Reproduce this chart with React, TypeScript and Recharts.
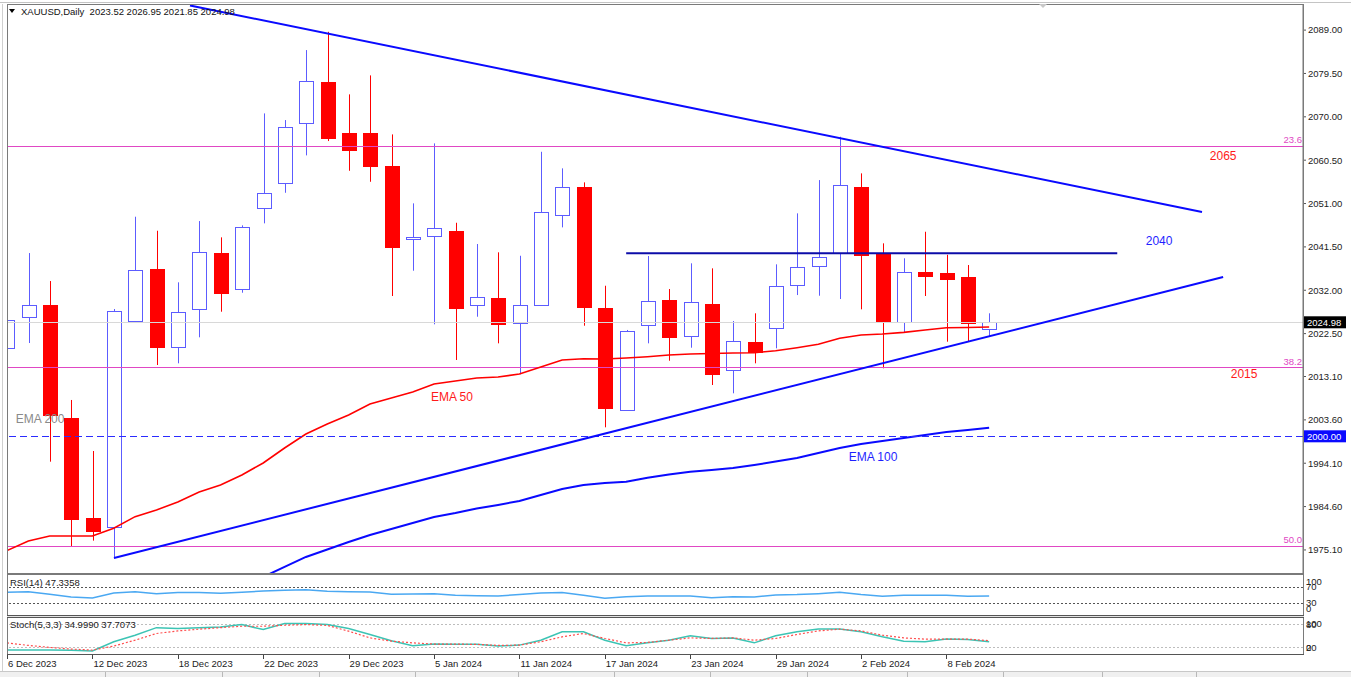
import React from "react";
import {
  ComposedChart,
  LineChart,
  Bar,
  Line,
  XAxis,
  YAxis,
  ReferenceLine,
  ReferenceDot,
} from "recharts";

const symbol = "XAUUSD";
const period = "Daily";

const dates = [
  "6 Dec 2023", "7 Dec 2023", "8 Dec 2023", "11 Dec 2023", "12 Dec 2023", "13 Dec 2023",
  "14 Dec 2023", "15 Dec 2023", "18 Dec 2023", "19 Dec 2023", "20 Dec 2023", "21 Dec 2023",
  "22 Dec 2023", "26 Dec 2023", "27 Dec 2023", "28 Dec 2023", "29 Dec 2023", "2 Jan 2024",
  "3 Jan 2024", "4 Jan 2024", "5 Jan 2024", "8 Jan 2024", "9 Jan 2024", "10 Jan 2024",
  "11 Jan 2024", "12 Jan 2024", "15 Jan 2024", "16 Jan 2024", "17 Jan 2024", "18 Jan 2024",
  "19 Jan 2024", "22 Jan 2024", "23 Jan 2024", "24 Jan 2024", "25 Jan 2024", "26 Jan 2024",
  "29 Jan 2024", "30 Jan 2024", "31 Jan 2024", "1 Feb 2024", "2 Feb 2024", "5 Feb 2024",
  "6 Feb 2024", "7 Feb 2024", "8 Feb 2024", "9 Feb 2024", "12 Feb 2024",
];

const opens = [
  2019.41, 2026.07, 2028.76, 2003.95, 1982.04, 1980.07, 2025.33, 2036.58, 2019.63, 2027.82,
  2040.09, 2032.27, 2050.08, 2055.42, 2068.56, 2077.61, 2066.5, 2066.5, 2059.21, 2043.15,
  2043.81, 2045.04, 2028.76, 2030.36, 2024.76, 2028.76, 2048.48, 2054.55, 2028.17, 2005.76,
  2024.38, 2029.86, 2021.97, 2028.92, 2014.53, 2020.73, 2023.79, 2033.14, 2037.31, 2040.09,
  2054.68, 2040.09, 2025.11, 2035.93, 2035.71, 2034.83, 2023.52,
];
const highs = [
  2035.99, 2040.15, 2034.02, 2007.96, 1996.78, 2027.89, 2048.11, 2045.04, 2033.74, 2047.16,
  2043.59, 2046.22, 2070.75, 2069.29, 2084.62, 2088.63, 2074.92, 2079.08, 2066.15, 2051.04,
  2064.18, 2046.79, 2042.13, 2040.31, 2039.56, 2062.34, 2058.71, 2055.64, 2032.99, 2023.3,
  2039.5, 2032.27, 2037.9, 2036.8, 2025.26, 2026.95, 2037.68, 2048.85, 2056.14, 2065.63,
  2057.61, 2042.28, 2039.0, 2044.82, 2039.77, 2037.53, 2026.95,
];
const lows = [
  2017.44, 2020.44, 1994.44, 1975.82, 1977.14, 1973.28, 2024.98, 2015.62, 2015.99, 2021.69,
  2027.3, 2031.46, 2046.66, 2053.36, 2061.55, 2064.69, 2058.18, 2055.77, 2030.74, 2036.28,
  2024.54, 2016.72, 2026.2, 2020.37, 2013.58, 2028.6, 2045.78, 2024.23, 2001.97, 2005.6,
  2020.37, 2016.56, 2019.41, 2011.24, 2009.42, 2015.99, 2019.28, 2030.95, 2030.8, 2030.08,
  2027.82, 2014.9, 2022.7, 2030.74, 2020.73, 2020.73, 2021.85,
];
const closes = [
  2025.48, 2028.76, 2004.67, 1981.89, 1979.33, 2027.45, 2036.36, 2019.63, 2027.3, 2040.31,
  2031.33, 2045.85, 2053.23, 2067.82, 2077.9, 2065.41, 2062.72, 2059.21, 2041.4, 2043.59,
  2045.7, 2028.04, 2030.45, 2024.54, 2028.76, 2049.07, 2054.68, 2028.26, 2006.14, 2023.13,
  2029.64, 2021.69, 2029.36, 2013.58, 2020.88, 2018.54, 2032.93, 2037.15, 2039.34, 2055.05,
  2039.72, 2024.98, 2035.93, 2035.18, 2034.46, 2024.76, 2024.98,
];

const ema50 = [
  1974.95, 1977.07, 1978.17, 1978.17, 1978.17, 1979.85, 1982.4, 1983.86, 1985.6, 1987.8,
  1989.34, 1991.53, 1994.16, 1997.44, 2000.51, 2002.7, 2004.67, 2007.08, 2008.39, 2009.7,
  2011.46, 2012.12, 2012.77, 2012.99, 2013.65, 2015.18, 2016.72, 2017.0, 2016.93, 2017.15,
  2017.44, 2017.81, 2018.03, 2018.14, 2018.25, 2018.32, 2018.76, 2019.41, 2020.16, 2021.47,
  2022.19, 2022.41, 2022.78, 2023.29, 2023.79, 2023.83, 2023.94,
];
const ema100 = [
  null, null, null, null, null, null, null, null, null, null, null, null,
  1969.2, 1971.38, 1973.57, 1975.2, 1976.85, 1978.38, 1979.7, 1981.0, 1982.33, 1983.2,
  1984.19, 1984.96, 1985.83, 1987.15, 1988.46, 1989.34, 1989.78, 1990.06, 1990.93, 1991.64,
  1992.25, 1992.62, 1993.06, 1993.72, 1994.48, 1995.25, 1996.35, 1997.44, 1998.32, 1998.98,
  1999.63, 2000.29, 2000.95, 2001.39, 2001.89,
];

const rsi14 = [
  56.7, 58.4, 51.7, 45, 42.5, 55, 58.4, 53.4, 56, 56, 54.25, 56.7, 60, 61.75, 63.4, 59.25,
  58.4, 57.5, 51.75, 52.5, 53.4, 49.25, 48.4, 47.5, 51, 55, 56, 49.25, 41.75, 45.8, 47.5,
  47.5, 47.5, 43.25, 45.8, 45, 50, 51, 53.4, 56.7, 51, 46.75, 49.25, 49.25, 49.25, 46.75,
  47.3358,
];
const stochMain = [
  13, 13, 13, 12.6, 10.4, 34.8, 52, 72, 69.6, 72, 74, 80, 67, 82.6, 82.6, 80, 69.6, 54,
  37.4, 24.3, 28.7, 28, 28, 23.5, 26, 39, 61, 61, 39, 24.3, 32, 39, 50.5, 43.5, 45, 32,
  50.5, 61, 68.7, 68.7, 61, 47.8, 36.5, 34.8, 41.8, 41, 34.999,
];
const stochSignal = [
  32, 25.2, 20, 15.6, 13, 23.5, 39, 56.6, 63.4, 67.9, 72, 75.7, 75.7, 78.3, 80, 78, 62.7,
  45, 36.5, 32, 28.7, 28.7, 28, 25.2, 26, 34.8, 47.8, 56.6, 43.5, 32, 33, 39, 45, 43.5, 45,
  39, 43.5, 54, 63.4, 67.9, 63.4, 52, 45, 41.8, 41.8, 41.8, 37.7073,
];

const priceTicks = [
  1975.1, 1984.6, 1994.1, 2003.6, 2013.1, 2022.5, 2032.0, 2041.5, 2051.0, 2060.5, 2070.0,
  2079.5, 2089.0,
];
const dateTicks = [0, 4, 8, 12, 16, 20, 24, 28, 32, 36, 40, 44];
const rsiTicks = [0, 30, 70, 100];
const rsiLevels = [30, 70];
const stochTicks = [0, 20, 80, 100];
const stochLevels = [20, 80];

const fibPrices = [2063.59, 2015.03, 1975.9];
const fibNames = ["23.6", "38.2", "50.0"];
const bidPrice = 2024.98;
const roundLevel = 2000;

const downTrend = [{ x: 8.57, y: 2094.4 }, { x: 55.97, y: 2049.13 }];
const upTrend = [{ x: 5.01, y: 1973.35 }, { x: 56.96, y: 2034.9 }];
const level2040 = [{ x: 29, y: 2040.09 }, { x: 52, y: 2040.09 }];

const noteTexts = ["2065", "2040", "2015", "EMA 50", "EMA 100", "EMA 200"];
const noteIndex = [56.96, 53.96, 57.94, 20.84, 40.56, 1.55];
const notePrice = [2061.4, 2042.78, 2013.65, 2008.61, 1995.47, 2003.79];
const noteColors = ["#ff1a1a", "#1f1fff", "#ff1a1a", "#ff1a1a", "#1f1fff", "#8a8a8a"];

const xDomain = [0, 60.7];
const priceDomain = [1970.05, 2094.5];

const rows = dates.map((date, i) => ({
  i,
  date,
  o: opens[i],
  h: highs[i],
  l: lows[i],
  c: closes[i],
  range: [lows[i], highs[i]],
  ema50: ema50[i],
  ema100: ema100[i],
  rsi: rsi14[i],
  k: stochMain[i],
  d: stochSignal[i],
}));

const FONT = '"Liberation Sans", Arial, sans-serif';
const BULL = "#5c5cff";
const BEAR = "#ff0000";
const PINK = "#e048c4";

const renderCandle = (props: any) => {
  const { x, y, width, height, payload } = props;
  if (!payload || height == null) return <g />;
  const { o, h, l, c } = payload;
  const k = h > l ? height / (h - l) : 0;
  const py = (v: number) => y + (h - v) * k;
  const cx = Math.round(x + width / 2);
  const wx = cx + 0.5;
  const top = Math.round(py(Math.max(o, c)));
  const bot = Math.max(Math.round(py(Math.min(o, c))), top + 1);
  if (c >= o) {
    return (
      <g>
        <line x1={wx} x2={wx} y1={py(h)} y2={top + 0.5} stroke={BULL} />
        <line x1={wx} x2={wx} y1={bot + 0.5} y2={py(l)} stroke={BULL} />
        <rect x={cx - 6.5} y={top + 0.5} width={14} height={bot - top} fill="#fff" stroke={BULL} />
      </g>
    );
  }
  return (
    <g>
      <line x1={wx} x2={wx} y1={py(h)} y2={py(l)} stroke={BEAR} />
      <rect x={cx - 7} y={top} width={15} height={bot - top + 1} fill={BEAR} />
    </g>
  );
};

const FibTag = (props: any) => {
  const { viewBox, text } = props;
  if (!viewBox) return null;
  return (
    <text x={viewBox.x + viewBox.width - 1} y={viewBox.y - 3} textAnchor="end" fontSize={9.5} fill={PINK}>
      {text}
    </text>
  );
};

const PriceTag = (props: any) => {
  const { viewBox, text, bg } = props;
  if (!viewBox) return null;
  const x = viewBox.x + viewBox.width + 1;
  return (
    <g>
      <rect x={x} y={viewBox.y - 6} width={42} height={12} fill={bg} />
      <text x={x + 3} y={viewBox.y} dy="0.355em" fontSize={9.5} fill="#fff">
        {text}
      </text>
    </g>
  );
};

const Note = (props: any) => {
  const { viewBox, text, color } = props;
  if (!viewBox) return null;
  return (
    <text x={viewBox.x + viewBox.width / 2} y={viewBox.y + viewBox.height / 2} dy="0.35em" textAnchor="middle" fontSize={12} fill={color}>
      {text}
    </text>
  );
};

const PanelTick = (props: any) => {
  const { x, y, payload, lo, hi } = props;
  return (
    <text x={x} y={Math.min(Math.max(y, lo), hi)} dy="0.355em" fontSize={9.5} fill="#222">
      {payload.value}
    </text>
  );
};

const DateTick = (props: any) => {
  const { x, y, payload } = props;
  const px = Math.round(x) + 0.5;
  return (
    <g>
      <line x1={px} x2={px} y1={y} y2={y + 4} stroke="#444" />
      <text x={x + 1} y={y + 12} fontSize={9.5} fill="#222">
        {dates[payload.value]}
      </text>
    </g>
  );
};

const line = (style: React.CSSProperties) => (
  <div style={{ position: "absolute", pointerEvents: "none", ...style }} />
);

export default function App() {
  const last = dates.length - 1;
  const header = `${symbol},${period}  ${opens[last].toFixed(2)} ${highs[last].toFixed(2)} ${lows[last].toFixed(2)} ${closes[last].toFixed(2)}`;

  return (
    <div
      style={{
        position: "absolute",
        left: 0,
        top: 0,
        width: 1351,
        height: 677,
        background: "#fff",
        overflow: "hidden",
        fontFamily: FONT,
      }}
    >
      <div style={{ position: "absolute", left: 0, top: 0 }}>
        <ComposedChart width={1351} height={574} data={rows} margin={{ top: 5, right: 0, bottom: 1, left: 7 }}>
          <XAxis type="number" dataKey="i" domain={xDomain} allowDataOverflow hide />
          <YAxis
            orientation="right"
            width={48}
            domain={priceDomain}
            allowDataOverflow
            ticks={priceTicks}
            interval={0}
            tickFormatter={(v: number) => v.toFixed(2)}
            tick={{ fontSize: 9.5, fill: "#222" }}
            tickSize={3}
            tickMargin={2}
            axisLine={{ stroke: "#777" }}
            tickLine={{ stroke: "#555" }}
          />
          <ReferenceLine
            y={bidPrice}
            stroke="#d8d8d8"
            shapeRendering="crispEdges"
            label={<PriceTag text={bidPrice.toFixed(2)} bg="#000" />}
          />
          {fibPrices.map((p, n) => (
            <ReferenceLine
              key={fibNames[n]}
              y={p}
              stroke={PINK}
              shapeRendering="crispEdges"
              label={<FibTag text={fibNames[n]} />}
            />
          ))}
          <Bar dataKey="range" barSize={16} shape={renderCandle} isAnimationActive={false} />
          <Line type="linear" dataKey="ema50" stroke="#ff0000" strokeWidth={1.6} dot={false} isAnimationActive={false} />
          <Line type="linear" dataKey="ema100" stroke="#0a0aff" strokeWidth={2} dot={false} isAnimationActive={false} />
          <ReferenceLine
            y={roundLevel}
            stroke="#2b2bff"
            strokeDasharray="7 4"
            shapeRendering="crispEdges"
            label={<PriceTag text={roundLevel.toFixed(2)} bg="#0a0aff" />}
          />
          <ReferenceLine segment={downTrend} stroke="#0a0aff" strokeWidth={2} ifOverflow="hidden" />
          <ReferenceLine segment={upTrend} stroke="#0a0aff" strokeWidth={2} ifOverflow="hidden" />
          <ReferenceLine segment={level2040} stroke="#0c0ca8" strokeWidth={2} ifOverflow="hidden" />
          {noteTexts.map((t, n) => (
            <ReferenceDot
              key={t}
              x={noteIndex[n]}
              y={notePrice[n]}
              r={0}
              fill="none"
              stroke="none"
              label={<Note text={t} color={noteColors[n]} />}
            />
          ))}
        </ComposedChart>
      </div>

      <div style={{ position: "absolute", left: 0, top: 575 }}>
        <LineChart width={1351} height={40} data={rows} margin={{ top: 0, right: 0, bottom: 0, left: 7 }}>
          <XAxis type="number" dataKey="i" domain={xDomain} allowDataOverflow hide />
          <YAxis
            orientation="right"
            width={48}
            domain={[0, 100]}
            ticks={rsiTicks}
            interval={0}
            axisLine={false}
            tickLine={false}
            tickSize={0}
            tickMargin={3}
            tick={(p: any) => <PanelTick {...p} lo={7} hi={34} />}
          />
          {rsiLevels.map((v) => (
            <ReferenceLine key={v} y={v} stroke="#555" strokeDasharray="2 2" shapeRendering="crispEdges" />
          ))}
          <Line type="linear" dataKey="rsi" stroke="#4aa8f2" strokeWidth={1.5} dot={false} isAnimationActive={false} />
        </LineChart>
      </div>

      <div style={{ position: "absolute", left: 0, top: 617 }}>
        <LineChart width={1351} height={53} data={rows} margin={{ top: 0, right: 0, bottom: 0, left: 7 }}>
          <XAxis
            type="number"
            dataKey="i"
            domain={xDomain}
            allowDataOverflow
            ticks={dateTicks}
            interval={0}
            height={15}
            axisLine={false}
            tickLine={false}
            tickSize={0}
            tickMargin={0}
            tick={(p: any) => <DateTick {...p} />}
          />
          <YAxis
            orientation="right"
            width={48}
            domain={[0, 100]}
            ticks={stochTicks}
            interval={0}
            axisLine={false}
            tickLine={false}
            tickSize={0}
            tickMargin={3}
            tick={(p: any) => <PanelTick {...p} lo={7} hi={31} />}
          />
          {stochLevels.map((v) => (
            <ReferenceLine key={v} y={v} stroke="#bdbdbd" strokeDasharray="2 2" shapeRendering="crispEdges" />
          ))}
          <Line type="linear" dataKey="k" stroke="#3cc4b4" strokeWidth={1.5} dot={false} isAnimationActive={false} />
          <Line
            type="linear"
            dataKey="d"
            stroke="#ff4d4d"
            strokeWidth={1.2}
            strokeDasharray="2 2"
            dot={false}
            isAnimationActive={false}
          />
        </LineChart>
      </div>

      {/* window frame */}
      {line({ left: 0, top: 2, width: 1351, height: 1, background: "#c4c4c4" })}
      {line({ left: 7, top: 4, width: 1297, height: 1, background: "#7a7a7a" })}
      {line({ left: 2, top: 4, width: 1, height: 667, background: "#d0d0d0" })}
      {line({ left: 7, top: 4, width: 1, height: 651, background: "#7a7a7a" })}
      {line({ left: 1303, top: 4, width: 1, height: 651, background: "#7a7a7a" })}
      {line({ left: 7, top: 573, width: 1297, height: 2, background: "#7a7a7a" })}
      {line({ left: 7, top: 615, width: 1297, height: 1, background: "#555" })}
      {line({ left: 7, top: 616, width: 1297, height: 1, background: "#e2e2e2" })}
      {line({ left: 7, top: 617, width: 1297, height: 1, background: "#555" })}
      {line({ left: 7, top: 654, width: 1297, height: 1, background: "#555" })}
      {line({ left: 0, top: 671, width: 1351, height: 6, background: "#f0f0f0", borderTop: "1px solid #c8c8c8" })}
      {[105, 222, 319, 415, 518, 614, 710, 807, 907, 1003, 1102, 1196].map((x) =>
        line({ left: x, top: 672, width: 1, height: 5, background: "#b8b8b8" })
      )}
      <div
        style={{
          position: "absolute",
          left: 1039,
          top: 4,
          width: 0,
          height: 0,
          borderLeft: "4px solid transparent",
          borderRight: "4px solid transparent",
          borderTop: "4px solid #c8c8c8",
        }}
      />

      {/* header */}
      <div
        style={{
          position: "absolute",
          left: 9,
          top: 9,
          width: 0,
          height: 0,
          borderLeft: "3.5px solid transparent",
          borderRight: "3.5px solid transparent",
          borderTop: "4px solid #000",
        }}
      />
      <div style={{ position: "absolute", left: 21, top: 5, fontSize: 9.5, lineHeight: "13px", color: "#111", whiteSpace: "pre" }}>
        {header}
      </div>
      <div style={{ position: "absolute", left: 10, top: 577, fontSize: 9.5, lineHeight: "12px", color: "#222", whiteSpace: "pre" }}>
        {`RSI(14) ${rsi14[last].toFixed(4)}`}
      </div>
      <div style={{ position: "absolute", left: 10, top: 619, fontSize: 9.5, lineHeight: "12px", color: "#222", whiteSpace: "pre" }}>
        {`Stoch(5,3,3) ${stochMain[last].toFixed(4)} ${stochSignal[last].toFixed(4)}`}
      </div>
    </div>
  );
}
